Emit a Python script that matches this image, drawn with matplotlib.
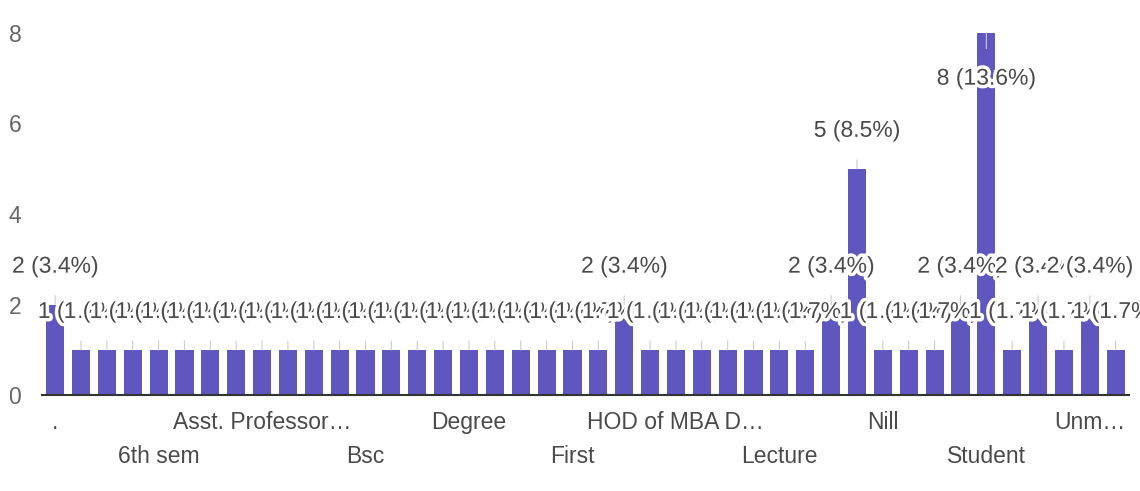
import numpy as np
from matplotlib import pyplot as plt
import matplotlib.patheffects as pe

plt.rcParams['font.family'] = ['Liberation Sans', 'DejaVu Sans']

# responses per answer (42 answers, alphabetical as in the form summary)
counts = [2, 1, 1, 1, 1, 1, 1, 1, 1, 1, 1, 1, 1, 1, 1, 1, 1, 1, 1, 1, 1, 1,
          2, 1, 1, 1, 1, 1, 1, 1, 2, 5, 1, 1, 1, 2, 8, 1, 2, 1, 2, 1]
# only every 4th category name is printed under the axis
tick_labels = ['.', '6th sem', 'Asst. Professor\u2026', 'Bsc', 'Degree', 'First',
               'HOD of MBA D\u2026', 'Lecture', 'Nill', 'Student', 'Unm\u2026']
yticks = [0, 2, 4, 6, 8]

bar_col = '#5f56c0'
txt_col = '#4a4a4a'
fs = 16.5

total = sum(counts)
xx = np.arange(len(counts))

fig = plt.figure(figsize=(11.4, 4.91), dpi=100)
ax = fig.add_axes([0.037, 0.195, 0.953, 0.738])

ax.bar(xx, counts, width=0.7, color=bar_col, zorder=2)

vmax = max(counts)
halo = [pe.withStroke(linewidth=5, foreground='white')]
for i, v in enumerate(counts):
	lab = '%d (%.1f%%)' % (v, 100. * v / total)
	if v == vmax:
		ty = v - 1.0
	else:
		ty = v + 0.85
	an = ax.annotate(lab, xy=(i, v), xytext=(i, ty), textcoords='data',
		ha='center', va='center', fontsize=fs, color=txt_col, zorder=3 + i,
		arrowprops=dict(arrowstyle='-', color='#cccccc', lw=0.8, shrinkA=11, shrinkB=0))
	an.set_path_effects(halo)
	an.arrow_patch.set_path_effects([])

ax.set_xlim(-0.5, len(counts) - 0.5)
ax.set_ylim(0, 8)
ax.set_yticks(yticks)
ax.set_yticklabels([str(t) for t in yticks], fontsize=fs, color='#666666')
ax.tick_params(axis='y', length=0, pad=15)

ax.set_xticks(xx[::4])
ax.set_xticklabels(tick_labels, fontsize=fs, color=txt_col)
ax.tick_params(axis='x', length=0)
for k, t in enumerate(ax.xaxis.get_major_ticks()):
	t.set_pad(11 if k % 2 == 0 else 36)

for s in ['top', 'right', 'left']:
	ax.spines[s].set_visible(False)
ax.spines['bottom'].set_color('#333333')
ax.spines['bottom'].set_linewidth(1.5)
ax.spines['bottom'].set_zorder(4)

plt.savefig('out.png', dpi=100)
